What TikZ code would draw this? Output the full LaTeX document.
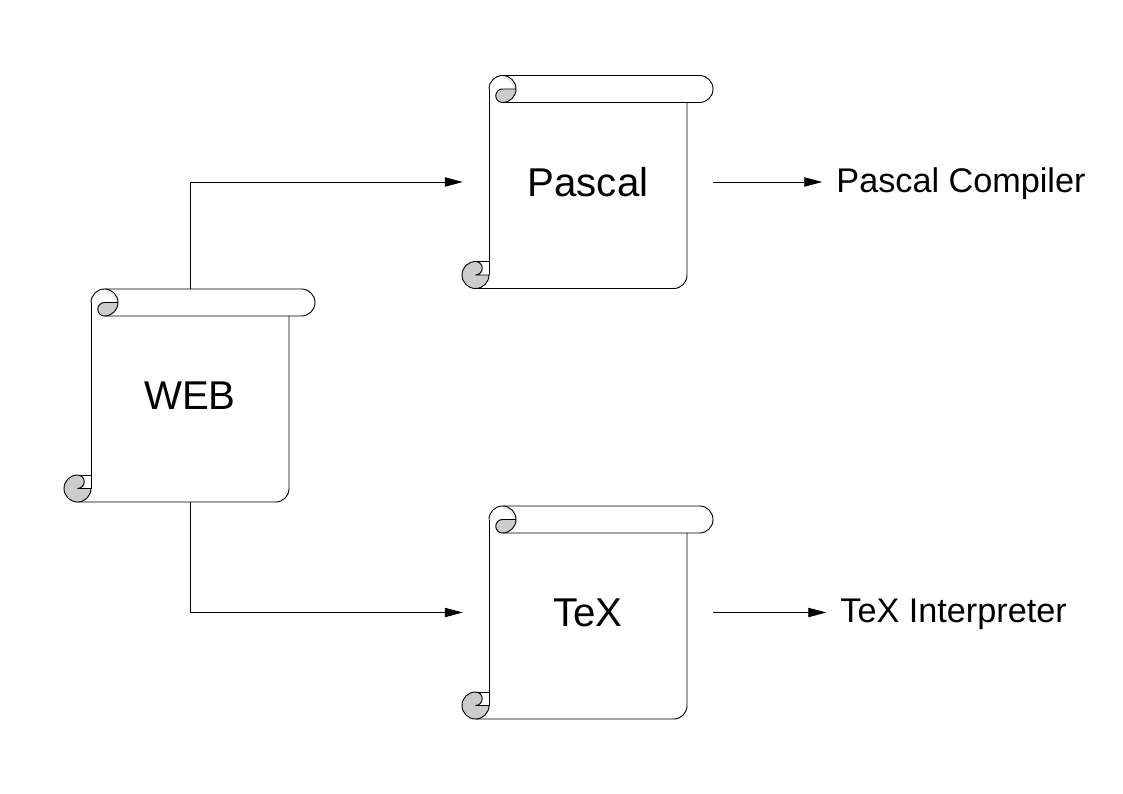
\documentclass[tikz,border=0pt]{standalone}
\usepackage{fontspec}
\setmainfont{Liberation Sans}
\usetikzlibrary{arrows.meta,positioning}
\definecolor{curl}{RGB}{204, 204, 204}
\tikzset{
	paper/.style={minimum width=7.5cm, minimum height=6.4cm, inner sep=0pt, font=\fontsize{34.3}{34.3}\selectfont},
	tool/.style={inner sep=0.42cm, text height=24.5pt, text depth=6pt, font=\fontsize{29.2}{29.2}\selectfont},
	link/.style={line width=0.8pt, -{Triangle[length=0.54cm,width=0.28cm]}},
	paper outline/.pic={
		%Hoja y barra superior
		\draw[line width=0.8pt, rounded corners=0.4cm] (-112.5,-106.5) -- (99,-106.5) -- (99,79.5);
		\draw[line width=0.8pt] (-99,93) -- (-99,-93);
		\draw[line width=0.8pt] (-85.5,106.5) -- (111.5,106.5) arc[start angle=90, end angle=-90, radius=13.5] -- (-85.5,79.5);
		%Rollo superior
		\draw[line width=0.8pt] (-85.5,106.5) arc[start angle=90, end angle=180, radius=13.5];
		\fill[curl!40] (-85.5,106.5) arc[start angle=90, end angle=0, radius=13.5] -- (-75,93) arc[start angle=0, end angle=80, radius=10.5] -- cycle;
		\draw[line width=0.8pt, fill=curl] (-72,93) -- (-85.5,93) arc[start angle=90, end angle=270, radius=6.75] arc[start angle=-90, end angle=0, radius=13.5];
		\draw[line width=0.8pt] (-85.5,106.5) arc[start angle=90, end angle=0, radius=13.5];
		%Rollo inferior
		\draw[line width=0.8pt] (-112.5,-79.5) -- (-99,-79.5);
		\draw[line width=0.8pt] (-112.5,-93) -- (-99,-93);
		\draw[line width=0.8pt, fill=curl] (-112.5,-79.5) arc[start angle=90, end angle=360, radius=13.5] -- (-112.5,-93) arc[start angle=-90, end angle=90, radius=6.75];
	}
}
\begin{document}
\begin{tikzpicture}[x=0.03cm, y=0.03cm]
	\useasboundingbox (0,0) rectangle (1123,-794);

	\node[paper] (web) at (190,-395.5) {WEB};
	\node[paper] (pascal) at (588,-182) {Pascal};
	\node[paper] (tex) at (588,-612.5) {TeX};

	\pic at (web) {paper outline};
	\pic at (pascal) {paper outline};
	\pic at (tex) {paper outline};

	\node[tool, anchor=west, right=3.27cm of pascal.east] (pascalc) {Pascal Compiler};
	\node[tool, text height=22.8pt, anchor=west, right=3.39cm of tex.east] (texi) {TeX Interpreter};

	\draw[link] (web.north) |- (pascal.west);
	\draw[link] (web.south) |- (tex.west);
	\draw[link] (pascal.east) -- (pascalc.west);
	\draw[link] (tex.east) -- (texi.west);
\end{tikzpicture}
\end{document}
